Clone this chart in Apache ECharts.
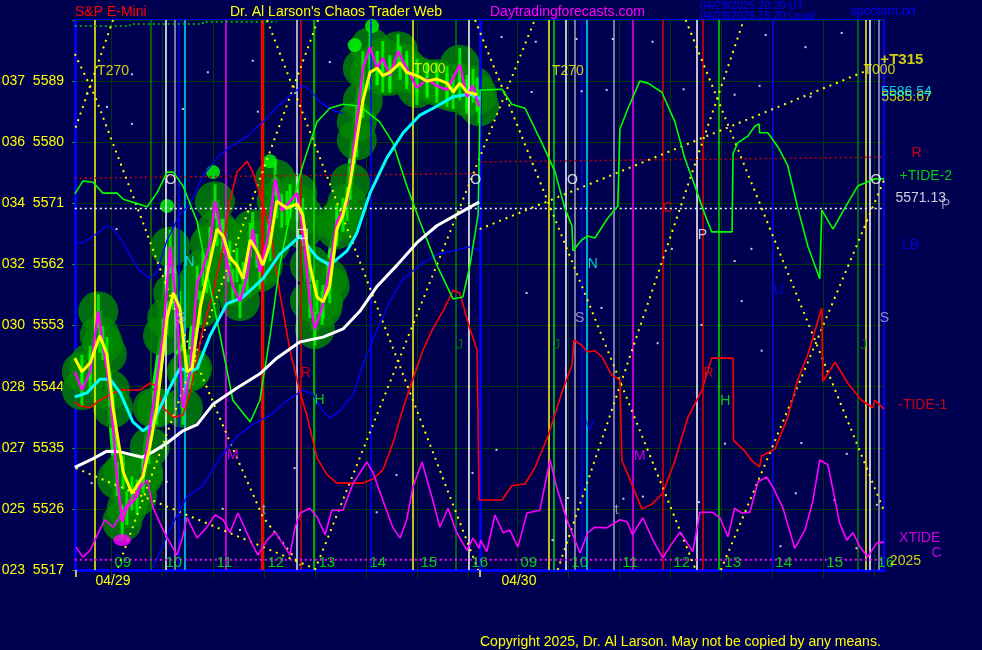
<!DOCTYPE html>
<html><head><meta charset="utf-8">
<script src="https://cdn.jsdelivr.net/npm/echarts@6/dist/echarts.min.js"></script>
<style>html,body{margin:0;padding:0;background:#000050;}#c{width:982px;height:650px;}</style>
</head><body><div id="c"></div>
<script>
// ---------- time axis helpers: [hour of day] per session day (0 = 04/29, 1 = 04/30)
const DAY_OPEN = 8.294, DAY_SHIFT = 7.96;
function toX(d, h) { return h - DAY_OPEN + d * DAY_SHIFT; }
const X_MAX = toX(1, 16.2);
const Y_MIN = 5517.9, Y_MAX = 5598.9, Y_STEP = 9;
const yTickPrefix = ['023','025','027','028','030','032','034','036','037'];
const dates = ['04/29', '04/30'];
const hourLabels = ['09','10','11','12','13','14','15','16'];
const hours = [9,10,11,12,13,14,15,16];

// ---------- price (yellow smoothed, magenta raw), day 1
const priceYellowD1 = [[8.29,5549.1],[8.43,5547.1],[8.59,5548.4],[8.78,5552.4],[8.92,5549.7],[9.04,5541.8],[9.24,5532.3],[9.41,5529.2],[9.63,5531.7],[9.76,5536.0],[9.90,5541.8],[10.10,5555.0],[10.22,5558.7],[10.35,5556.5],[10.49,5547.1],[10.59,5547.6],[10.75,5556.5],[10.88,5561.2],[11.08,5568.1],[11.20,5567.1],[11.33,5563.9],[11.47,5562.8],[11.59,5560.8],[11.73,5566.5],[11.86,5564.9],[11.98,5562.8],[12.12,5565.9],[12.25,5572.2],[12.45,5571.2],[12.65,5571.8],[12.76,5570.2],[12.90,5562.8],[13.04,5558.1],[13.16,5557.4],[13.29,5559.7],[13.43,5568.1],[13.55,5570.2],[13.69,5574.9],[13.82,5581.2],[13.94,5587.0],[14.08,5591.2],[14.22,5591.8],[14.33,5590.7],[14.47,5591.2],[14.67,5592.6],[14.80,5591.2],[15.00,5590.7],[15.20,5589.9],[15.39,5590.2],[15.59,5589.6],[15.71,5588.3],[15.84,5589.6],[15.98,5588.3],[16.18,5587.9]];
const priceMagentaD1 = [[8.29,5547.1],[8.43,5544.4],[8.59,5547.1],[8.75,5556.0],[8.84,5551.3],[8.98,5544.4],[9.12,5531.3],[9.22,5525.0],[9.31,5527.0],[9.51,5528.7],[9.63,5532.3],[9.82,5541.8],[10.02,5552.4],[10.16,5565.5],[10.29,5556.0],[10.41,5541.8],[10.55,5547.1],[10.69,5560.2],[10.80,5562.2],[10.94,5565.9],[11.04,5572.2],[11.18,5567.1],[11.29,5562.8],[11.39,5559.7],[11.53,5557.5],[11.67,5561.2],[11.78,5568.1],[11.92,5561.8],[12.08,5567.1],[12.22,5575.5],[12.35,5570.8],[12.51,5572.2],[12.65,5573.4],[12.76,5568.1],[12.90,5557.5],[13.00,5553.4],[13.14,5556.5],[13.25,5560.8],[13.43,5569.2],[13.63,5571.8],[13.82,5583.9],[13.94,5591.8],[14.08,5594.9],[14.22,5591.8],[14.33,5593.3],[14.47,5590.7],[14.63,5594.3],[14.80,5591.8],[15.00,5588.9],[15.20,5590.2],[15.39,5589.2],[15.59,5588.6],[15.84,5592.3],[15.98,5587.6],[16.10,5589.2],[16.22,5586.2]];
const brightDotsD1 = [[10.10,5571.5],[11.00,5576.5],[12.12,5578.1],[13.78,5595.2],[14.12,5598.0]];
const lowMarkD1 = [[9.22,5522.3]];

// ---------- moving averages, day 1
const whiteMA_D1 = [[8.29,5533.0],[8.65,5534.3],[8.92,5535.4],[9.18,5535.3],[9.61,5534.5],[9.82,5535.3],[10.10,5536.6],[10.41,5538.4],[10.69,5539.3],[11.00,5542.3],[11.47,5544.7],[11.92,5546.8],[12.25,5549.1],[12.71,5551.5],[13.16,5552.2],[13.55,5553.4],[13.88,5556.0],[14.22,5559.7],[14.61,5562.8],[15.00,5566.1],[15.39,5568.6],[15.84,5570.5],[16.22,5572.1]];
const cyanMA_D1 = [[8.29,5543.4],[8.53,5544.0],[8.78,5546.0],[8.98,5546.0],[9.18,5544.0],[9.43,5539.7],[9.63,5538.4],[9.80,5539.3],[10.10,5544.0],[10.35,5547.6],[10.55,5547.1],[10.69,5547.6],[10.94,5552.4],[11.27,5557.1],[11.59,5558.1],[11.98,5560.8],[12.31,5564.4],[12.71,5567.1],[13.04,5563.9],[13.29,5562.8],[13.63,5564.9],[13.82,5567.5],[14.08,5573.4],[14.41,5578.6],[14.73,5582.3],[15.06,5584.9],[15.39,5586.2],[15.71,5587.6],[16.04,5588.0],[16.24,5587.3]];

// ---------- tide curves
const greenTideD1 = [[8.29,5573.3],[8.45,5575.2],[8.65,5575.0],[8.84,5573.4],[9.12,5573.4],[9.24,5572.5],[9.71,5571.4],[9.90,5573.4],[10.10,5576.5],[10.22,5576.5],[10.41,5574.5],[10.69,5569.2],[10.88,5561.8],[11.14,5552.4],[11.39,5542.9],[11.73,5539.7],[11.92,5542.9],[12.12,5552.4],[12.31,5562.8],[12.51,5570.2],[12.76,5577.5],[13.04,5583.9],[13.29,5585.9],[13.55,5586.5],[13.88,5586.2],[14.27,5583.9],[14.53,5580.8],[14.80,5574.5],[15.06,5569.2],[15.39,5562.8],[15.71,5557.8],[15.90,5558.1],[16.04,5562.8],[16.20,5570.2],[16.22,5578.6],[16.24,5588.6]];
const greenTideD2 = [[8.29,5588.7],[8.71,5588.7],[8.90,5586.5],[9.16,5585.9],[9.49,5580.8],[9.75,5576.5],[9.94,5571.2],[10.08,5568.6],[10.10,5564.9],[10.27,5566.5],[10.39,5567.1],[10.53,5566.8],[10.78,5569.7],[10.98,5571.5],[11.02,5582.8],[11.18,5585.9],[11.41,5589.9],[11.57,5589.6],[11.84,5588.3],[12.10,5583.9],[12.29,5578.6],[12.49,5574.5],[12.69,5570.2],[12.82,5567.7],[13.22,5567.7],[13.24,5579.2],[13.33,5580.8],[13.53,5581.8],[13.67,5583.3],[13.75,5583.6],[13.76,5582.3],[13.92,5582.3],[14.12,5580.2],[14.31,5577.5],[14.51,5571.2],[14.71,5565.5],[14.94,5560.8],[14.98,5570.9],[15.20,5568.1],[15.43,5571.2],[15.69,5574.5],[16.02,5575.5],[16.20,5575.5]];
const redTideD1 = [[8.29,5542.6],[8.39,5542.1],[8.59,5541.8],[8.78,5542.9],[8.98,5543.7],[9.18,5544.4],[9.57,5544.4],[9.76,5545.4],[9.90,5545.0],[10.02,5541.8],[10.22,5540.4],[10.41,5540.7],[10.55,5544.0],[10.69,5549.1],[10.80,5553.4],[11.00,5558.7],[11.20,5565.5],[11.33,5572.2],[11.47,5576.5],[11.67,5578.1],[11.78,5576.5],[11.96,5572.2],[12.12,5568.1],[12.31,5558.7],[12.51,5550.3],[12.71,5544.0],[12.84,5540.7],[13.04,5534.4],[13.24,5531.9],[13.43,5530.7],[13.94,5530.7],[14.14,5531.3],[14.33,5532.6],[14.53,5536.6],[14.73,5541.8],[14.92,5546.0],[15.12,5550.3],[15.31,5553.4],[15.51,5556.0],[15.71,5559.1],[15.84,5558.7],[16.04,5553.4],[16.18,5550.3],[16.22,5528.2]];
const redTideD2 = [[8.29,5528.2],[8.71,5528.2],[8.90,5530.3],[9.16,5530.6],[9.35,5532.9],[9.61,5537.6],[9.88,5544.0],[10.08,5548.1],[10.12,5551.8],[10.27,5551.0],[10.39,5550.0],[10.53,5550.2],[10.67,5549.3],[10.86,5546.6],[11.02,5545.9],[11.06,5534.0],[11.18,5531.9],[11.45,5526.9],[11.65,5527.6],[11.86,5529.2],[12.10,5534.0],[12.35,5540.3],[12.63,5544.4],[12.82,5549.1],[13.24,5549.1],[13.25,5537.0],[13.47,5535.4],[13.61,5534.0],[13.76,5533.1],[13.80,5534.7],[14.06,5535.7],[14.31,5540.3],[14.51,5546.0],[14.71,5549.7],[14.98,5556.5],[15.00,5545.7],[15.24,5548.5],[15.49,5545.4],[15.76,5542.9],[15.98,5541.8],[16.02,5542.9],[16.20,5541.6]];
const blueLB_D1 = [[8.29,5566.1],[8.45,5566.1],[8.73,5567.5],[8.92,5568.6],[9.04,5568.1],[9.24,5566.1],[9.51,5562.4],[9.76,5560.8],[9.90,5561.8],[10.10,5566.5],[10.35,5570.2],[10.55,5571.8],[10.80,5575.9],[11.08,5578.6],[11.33,5580.2],[11.67,5581.8],[11.98,5583.9],[12.31,5586.5],[12.65,5588.6],[12.76,5589.3],[12.90,5588.6],[13.10,5586.8],[13.35,5585.6],[13.55,5585.2]];
const blueLowD1 = [[9.82,5518.2],[10.16,5524.0],[10.49,5528.7],[10.80,5530.3],[11.14,5534.4],[11.47,5537.6],[11.78,5539.3],[12.12,5540.7],[12.45,5542.8],[12.76,5544.4],[12.96,5543.8],[13.16,5541.3],[13.29,5540.3],[13.49,5541.3],[13.75,5543.8],[13.94,5548.1],[14.22,5553.4],[14.47,5557.5],[14.73,5560.8],[15.06,5562.8],[15.39,5564.4],[15.71,5564.9],[16.04,5565.5],[16.24,5564.9]];
const xtideD1 = [[8.31,5521.3],[8.45,5519.8],[8.59,5520.8],[8.78,5523.8],[8.88,5525.3],[9.04,5524.2],[9.37,5528.2],[9.71,5531.2],[9.82,5527.2],[10.02,5523.8],[10.16,5521.9],[10.29,5520.1],[10.39,5522.3],[10.49,5525.6],[10.69,5522.6],[10.88,5524.2],[11.04,5526.0],[11.20,5525.3],[11.33,5523.4],[11.49,5526.3],[11.73,5522.3],[11.88,5520.1],[12.06,5522.3],[12.22,5523.5],[12.35,5522.0],[12.51,5520.1],[12.61,5524.2],[12.71,5526.3],[12.90,5527.0],[13.04,5525.7],[13.20,5523.1],[13.33,5526.7],[13.55,5526.7],[13.75,5530.7],[14.02,5533.8],[14.14,5532.2],[14.33,5528.2],[14.53,5524.1],[14.67,5522.6],[14.80,5525.3],[14.92,5530.1],[15.10,5533.8],[15.31,5528.2],[15.45,5524.2],[15.61,5527.0],[15.78,5523.4],[15.98,5520.8],[16.10,5522.6],[16.22,5521.1]];
const xtideD2 = [[8.29,5522.3],[8.41,5520.6],[8.57,5526.0],[8.73,5523.4],[8.86,5523.8],[9.02,5521.3],[9.20,5526.3],[9.45,5526.7],[9.65,5534.1],[9.78,5530.1],[9.98,5525.3],[10.24,5520.4],[10.39,5523.4],[10.53,5524.2],[10.76,5524.1],[11.02,5525.3],[11.16,5525.0],[11.27,5523.1],[11.47,5525.6],[11.67,5522.3],[11.86,5519.7],[12.06,5522.0],[12.20,5523.5],[12.39,5521.3],[12.45,5520.6],[12.59,5526.4],[12.84,5526.4],[12.98,5525.6],[13.14,5522.8],[13.27,5527.0],[13.41,5526.3],[13.57,5526.4],[13.73,5530.9],[13.90,5531.6],[14.02,5530.1],[14.22,5527.0],[14.45,5521.1],[14.65,5523.8],[14.80,5527.9],[14.94,5534.1],[15.10,5533.4],[15.33,5524.8],[15.47,5522.3],[15.59,5523.4],[15.73,5521.3],[15.88,5519.8],[16.06,5521.9],[16.20,5522.0]];

// ---------- level lines
const whiteLevel = 5571.13;
const magentaLevel = 5519.4;
const redLevelD1 = [[8.29,5575.6],[16.24,5576.3]];
const redLevelD2 = [[8.27,5578.0],[16.20,5578.7]];
const greenTopD1 = [[8.29,5598.0],[9.37,5598.0],[9.37,5598.3],[10.80,5598.3],[10.80,5598.6],[12.25,5598.6]];

// ---------- time-price dotted lines: [day, hour, price]
const timePriceLines = [
  [[0,8.29,5593.9],[0,8.69,5587.6],[0,9.57,5570.2],[0,10.45,5552.4],[0,11.33,5536.8],[0,11.98,5525.7],[0,12.71,5518.6]],
  [[0,9.04,5598.9],[0,8.29,5582.7]],
  [[0,12.06,5598.9],[0,16.20,5517.9]],
  [[0,13.06,5598.9],[0,9.12,5517.9]],
  [[0,13.00,5517.9],[1,9.35,5598.9]],
  [[0,16.14,5598.9],[1,12.51,5517.9]],
  [[1,9.80,5517.9],[1,13.45,5598.9]],
  [[1,12.31,5598.9],[1,16.20,5526.6]],
  [[1,13.00,5517.9],[1,16.20,5575.3]],
  [[0,8.31,5532.9],[0,12.96,5518.2]],
  [[1,8.27,5568.1],[1,15.88,5591.5]]
];

// ---------- vertical time lines: [day, hour]
const vYellow = [[0,8.67],[0,14.92],[1,9.63],[1,15.84]];
const vDarkGreen = [[0,9.78],[0,15.75],[1,15.69]];
const vGreen = [[0,12.98],[1,9.71],[1,12.96]];
const vWhite = [[0,10.06],[0,16.02],[1,9.96],[1,12.53],[1,15.92]];
const vLavender = [[0,12.63]];
const vGrey = [[0,10.24],[1,10.14],[1,10.90],[1,16.10]];
const vBlue = [[0,10.33],[0,14.10],[1,10.27],[1,14.02]];
const vCyan = [[0,10.45],[1,10.37]];
const vMagenta = [[0,11.25],[1,11.27]];
const vRedThick = [[0,11.96]];
const vRed = [[0,12.71],[1,11.86],[1,12.65]];
const vDayBreak = [[0,16.24]];

// ---------- stars: [day, hour, price]
const stars = [[0,10.90,5591.2],[0,9.41,5590.9],[0,11.78,5592.9],[0,13.29,5592.7],[0,10.41,5585.8],[0,11.88,5585.4],[0,8.92,5586.1],[0,8.53,5588.1],[1,8.70,5596.4],[1,9.37,5595.7],[1,10.17,5596.1],[1,10.88,5596.1],[1,11.66,5595.7],[1,13.88,5596.7],[1,15.37,5597.0],[1,14.66,5594.9],[1,9.29,5588.3],[1,10.27,5588.4],[1,10.76,5588.6],[1,12.27,5588.7],[1,13.76,5589.2],[1,14.76,5587.6],[1,13.27,5587.9],[1,8.60,5535.6],[1,13.08,5536.5],[1,14.58,5536.6],[1,15.47,5535.0],[1,10.00,5528.5],[1,11.09,5528.4],[1,11.47,5528.7],[1,12.57,5527.9],[1,14.47,5529.2],[1,16.06,5527.5],[1,14.17,5521.4],[1,9.70,5522.3],[1,15.66,5521.1],[0,8.62,5530.7],[0,10.09,5530.9],[0,11.19,5526.9],[0,11.53,5523.8],[0,12.60,5532.9],[0,14.21,5526.4],[0,14.60,5531.9],[0,16.09,5532.2],[1,9.19,5558.7],[1,13.41,5557.5],[1,13.60,5565.2],[1,13.27,5563.4],[1,12.04,5565.2],[1,10.66,5556.5],[1,11.76,5551.3],[1,12.62,5554.0],[1,13.80,5550.2],[1,15.23,5528.2],[0,9.11,5568.1],[0,9.41,5583.6]];

// ---------- text annotations: [day, hour, price, text]
const txtYellow = [[0,9.04,5591.4,'T270'],[0,15.25,5591.7,'T000'],[1,10.00,5591.4,'T270'],[1,16.11,5591.5,'T000'],[1,16.64,5587.6,'5585.67'],[1,16.62,5519.2,'2025']];
const txtYellowBold = [[1,16.55,5593.0,'+T315']];
const txtCyan = [[0,10.54,5563.3,'N'],[1,10.49,5563.0,'N'],[1,16.64,5588.3,'5586.54']];
const txtWhite = [[0,10.17,5575.3,'O'],[0,16.15,5575.3,'O'],[1,10.09,5575.3,'O'],[1,16.04,5575.3,'O'],[1,12.64,5567.2,'P'],[1,16.92,5572.7,'5571.13']];
const txtGrey = [[0,10.37,5555.0,'S'],[1,10.23,5555.0,'S'],[1,16.21,5555.0,'S'],[0,12.00,5526.7,'t'],[1,10.96,5526.7,'t'],[1,17.41,5571.7,'P']];
const txtRed = [[0,12.82,5546.9,'R'],[1,12.76,5546.9,'R'],[1,11.96,5571.2,'C'],[1,16.84,5579.3,'R'],[1,16.96,5542.2,'-TIDE-1']];
const txtGreen = [[0,13.09,5542.9,'H'],[1,13.09,5542.8,'H'],[1,17.02,5575.9,'+TIDE-2']];
const txtDarkGreen = [[0,15.84,5551.0,'J'],[1,9.78,5551.0,'J'],[1,15.80,5551.0,'J']];
const txtMagenta = [[0,11.39,5534.8,'M'],[1,11.41,5534.7,'M'],[1,16.90,5522.6,'XTIDE'],[1,17.23,5520.4,'C']];
const txtBlue = [[1,10.43,5539.1,'V'],[1,14.13,5559.1,'U'],[1,16.72,5565.8,'LB']];
const markSquare = [[0,12.76,5567.4]];

// ================= build =================
const FONT = "'Liberation Sans', Arial, sans-serif";
function pts(d, arr) { return arr.map(a => [toX(d, a[0]), a[1]]); }
function pts3(arr) { return arr.map(a => [toX(a[0], a[1]), a[2]]); }

const series = [];
function addLine(data, color, width, z, type) {
  series.push({ type: 'line', data, symbol: 'none', silent: true, z,
    lineStyle: { color, width, type: type || 'solid' }, animation: false });
}
function addVLines(arr, color, width, z) {
  series.push({ type: 'line', data: [], silent: true, z, animation: false,
    markLine: { symbol: ['none','none'], silent: true, animation: false, z,
      label: { show: false },
      lineStyle: { color, width, type: 'solid' },
      data: arr.map(a => ({ xAxis: toX(a[0], a[1]) })) } });
}
function addText(arr, color, size, weight) {
  series.push({ type: 'scatter', silent: true, clip: false, z: 10, animation: false,
    symbolSize: 1, itemStyle: { color: 'rgba(0,0,0,0)' },
    data: arr.map(a => ({ value: [toX(a[0], a[1]), a[2]], name: a[3] })),
    label: { show: true, position: 'inside', formatter: p => p.name, color,
      fontSize: size || 14, fontWeight: weight || 'normal', fontFamily: FONT } });
}

// hour grid lines
const hourGrid = [];
[0,1].forEach(d => hours.forEach(h => hourGrid.push([d, h])));
addVLines(hourGrid, '#003a00', 1, 1);

// green blob around price
const blobPts = pts(0, priceMagentaD1).concat(pts(0, priceYellowD1));
series.push({ type: 'scatter', silent: true, z: 2, animation: false, symbolSize: 40,
  itemStyle: { color: '#008800' }, data: blobPts });
series.push({ type: 'scatter', silent: true, z: 2, animation: false, symbol: 'rect', symbolSize: [3, 34],
  itemStyle: { color: '#00ff00' }, data: blobPts });
addLine(pts(0, priceMagentaD1), '#00ff00', 8, 2);
series.push({ type: 'scatter', silent: true, z: 2, animation: false, symbolSize: 14,
  itemStyle: { color: '#00ff00' }, data: pts(0, brightDotsD1) });

// vertical time lines
addVLines(vDarkGreen, '#008000', 1.5, 3);
addVLines(vGreen, '#00e000', 1.5, 3);
addVLines(vYellow, '#ffff00', 1.5, 3);
addVLines(vWhite, '#ffffff', 1.5, 3);
addVLines(vLavender, '#e0e0ff', 1.5, 3);
addVLines(vGrey, '#a0a0c0', 1.5, 3);
addVLines(vBlue, '#0000ff', 1.5, 3);
addVLines(vCyan, '#00e0ff', 1.5, 3);
addVLines(vMagenta, '#ff00ff', 1.5, 3);
addVLines(vRedThick, '#ff0000', 3, 3);
addVLines(vRed, '#e00000', 1.5, 3);
addVLines(vDayBreak, '#0000ff', 2.5, 3);

// stars
series.push({ type: 'scatter', silent: true, z: 3, animation: false, symbol: 'rect', symbolSize: 2,
  itemStyle: { color: '#ffffff' }, data: pts3(stars) });

// level lines
addLine([[toX(0,8.29), magentaLevel],[X_MAX, magentaLevel]], '#ff00ff', 2, 4, [2,3]);
addLine([[toX(0,8.29), whiteLevel],[X_MAX, whiteLevel]], '#ffffff', 1.5, 4, [2,3]);
addLine(pts(0, redLevelD1), '#c00000', 1.5, 4, [2,3]);
addLine(pts(1, redLevelD2), '#c00000', 1.5, 4, [2,3]);
addLine(pts(0, greenTopD1), '#00d000', 1.5, 4, [2,3]);
timePriceLines.forEach(l => addLine(pts3(l), '#ffff00', 2, 4, [2,5]));

// tide curves
addLine(pts(0, blueLB_D1), '#0000ff', 1.3, 4);
addLine(pts(0, blueLowD1), '#0000ff', 1.3, 4);
addLine(pts(0, redTideD1).concat(pts(1, redTideD2)), '#ff0000', 1.6, 4);
addLine(pts(0, greenTideD1).concat(pts(1, greenTideD2)), '#00ff00', 1.6, 4);
addLine(pts(0, xtideD1).concat(pts(1, xtideD2)), '#ff00ff', 1.6, 4);

// averages and price
addLine(pts(0, whiteMA_D1), '#ffffff', 3, 5);
addLine(pts(0, cyanMA_D1), '#00ffff', 3, 5);
addLine(pts(0, priceMagentaD1), '#ff00ff', 2.5, 5);
addLine(pts(0, priceYellowD1), '#ffff00', 3, 5);
series.push({ type: 'scatter', silent: true, z: 5, animation: false, symbolSize: [18, 12],
  itemStyle: { color: '#ff00ff' }, data: pts(0, lowMarkD1) });
series.push({ type: 'scatter', silent: true, z: 6, animation: false, symbol: 'rect', symbolSize: 9,
  itemStyle: { color: 'rgba(0,0,0,0)', borderColor: '#ffffff', borderWidth: 1.2 }, data: pts3(markSquare) });

// hour labels
const hourTxt = [];
[0,1].forEach(d => hours.forEach((h, i) => hourTxt.push({ value: [toX(d, h), 5518.9], name: hourLabels[i] })));
series.push({ type: 'scatter', silent: true, clip: false, z: 10, animation: false, symbolSize: 1,
  itemStyle: { color: 'rgba(0,0,0,0)' }, data: hourTxt,
  label: { show: true, position: 'right', distance: 3, formatter: p => p.name, color: '#00ff00', fontSize: 15, fontFamily: FONT } });

addText(txtYellow, '#ffff00', 14);
addText(txtYellowBold, '#ffff00', 15, 'bold');
addText(txtCyan, '#00ffff', 14);
addText(txtWhite, '#ffffff', 14);
addText(txtGrey, '#b0b0d0', 14);
addText(txtRed, '#ff0000', 14);
addText(txtGreen, '#00ff00', 14);
addText(txtDarkGreen, '#008000', 14);
addText(txtMagenta, '#ff00ff', 14);
addText(txtBlue, '#0000ff', 14);

const hourTicks = [];
[0,1].forEach(d => hours.forEach(h => hourTicks.push(toX(d, h))));

const chart = echarts.init(document.getElementById('c'), null, { renderer: 'canvas' });
chart.setOption({
  backgroundColor: '#000050',
  animation: false,
  textStyle: { fontFamily: FONT },
  grid: { left: 75, right: 98, top: 20, bottom: 80, show: true, borderColor: '#0000ff', borderWidth: 2,
    containLabel: false, outerBoundsMode: 'none' },
  xAxis: [
    { type: 'value', min: 0, max: X_MAX, position: 'bottom',
      axisLine: { show: true, onZero: false, lineStyle: { color: '#0000ff', width: 3 } },
      axisTick: { show: true, customValues: hourTicks, length: 8, lineStyle: { color: '#003a00', width: 1 } },
      axisLabel: { show: true, customValues: [toX(0, 9.04), toX(1, 9.04)], formatter: v => dates[v < 4 ? 0 : 1],
        color: '#ffff00', fontSize: 14, margin: 4, fontFamily: FONT },
      splitLine: { show: false } },
    { type: 'value', min: 0, max: X_MAX, position: 'bottom',
      axisLine: { show: false },
      axisTick: { show: true, customValues: [toX(0, 8.31), toX(1, 8.27)], length: 7, lineStyle: { color: '#ffff60', width: 1.5 } },
      axisLabel: { show: false }, splitLine: { show: false } }
  ],
  yAxis: { type: 'value', min: Y_MIN, max: Y_MAX, interval: Y_STEP,
    axisLine: { show: true, lineStyle: { color: '#0000ff', width: 3 } },
    axisTick: { show: true, length: 3, lineStyle: { color: '#00a000' } },
    axisLabel: { color: '#ffff00', fontSize: 14, margin: 11, fontFamily: FONT, padding: [0, 0, 9, 0],
      formatter: v => { const i = Math.round((v - Y_MIN) / Y_STEP); if (i < 0 || i > 8) return ''; return yTickPrefix[i] + '  ' + Math.floor(v + 1e-6); } },
    splitLine: { show: true, lineStyle: { color: '#003a00', width: 1 } } },
  graphic: [
    { type: 'text', left: 75, top: 5, silent: true, style: { text: 'S&P E-Mini', fill: '#ff0000', font: '14px ' + FONT } },
    { type: 'text', left: 230, top: 5, silent: true, style: { text: "Dr. Al Larson's Chaos Trader Web", fill: '#ffff00', font: '14px ' + FONT } },
    { type: 'text', left: 490, top: 5, silent: true, style: { text: 'Daytradingforecasts.com', fill: '#ff00ff', font: '14px ' + FONT } },
    { type: 'text', left: 700, top: 0, silent: true, style: { text: '04/29/2025 20:20 UT', fill: '#0000ff', font: '11px ' + FONT } },
    { type: 'text', left: 700, top: 10, silent: true, style: { text: '04/29/2025 15:20 Local', fill: '#0000ff', font: '11px ' + FONT } },
    { type: 'text', left: 850, top: 5, silent: true, style: { text: 'spcctom.txt', fill: '#0000ff', font: '13px ' + FONT } },
    { type: 'text', left: 480, top: 635, silent: true, style: { text: 'Copyright 2025, Dr. Al Larson. May not be copied by any means.', fill: '#ffff00', font: '14px ' + FONT } }
  ],
  series
});
</script></body></html>
